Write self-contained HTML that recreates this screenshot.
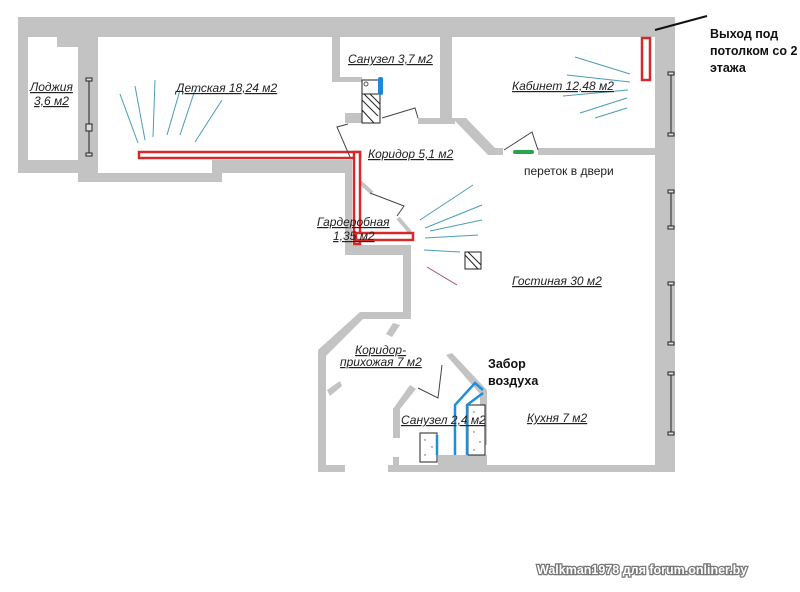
<!DOCTYPE html>
<html><head><meta charset="utf-8"><style>
html,body{margin:0;padding:0;background:#fff;}
svg{display:block}
.l{font-family:"Liberation Sans",sans-serif;font-style:italic;font-size:12px;text-decoration:underline;fill:#222}
.b{font-family:"Liberation Sans",sans-serif;font-weight:bold;font-size:12.5px;fill:#111}
</style></head><body>
<svg width="800" height="592" viewBox="0 0 800 592" xmlns="http://www.w3.org/2000/svg">
<g fill="#c3c3c3">
<rect x="18" y="17" width="657" height="20"/>
<rect x="18" y="17" width="10" height="156"/>
<rect x="18" y="160" width="80" height="13"/>
<rect x="57" y="32" width="21" height="15"/>
<rect x="78" y="32" width="20" height="150"/>
<rect x="78" y="173" width="144" height="9"/>
<rect x="212" y="160" width="140" height="13"/>
<rect x="332" y="37" width="8" height="45"/>
<rect x="332" y="77" width="30" height="5"/>
<rect x="345" y="113" width="17" height="10"/>
<rect x="440" y="37" width="12" height="86"/>
<rect x="418" y="118" width="37" height="6"/>
<polygon points="452,118 466,118 495,148 495,155 488,155 458,124"/>
<rect x="488" y="148" width="15" height="7"/>
<rect x="538" y="148" width="120" height="7"/>
<rect x="655" y="17" width="20" height="455"/>
<rect x="345" y="160" width="7" height="95"/>
<rect x="345" y="245" width="66" height="10"/>
<rect x="403" y="245" width="8" height="70"/>
<polygon points="360,312 411,312 411,319 363,319 326,356 318,356 318,350"/>
<rect x="318" y="350" width="8" height="122"/>
<rect x="318" y="465" width="27" height="7"/>
<polygon points="393,323 400,325 392,337 386,334"/>
<polygon points="327,390 340,381 342,386 330,396"/>
<rect x="388" y="465" width="287" height="7"/>
<rect x="393" y="457" width="6" height="8"/>
<polygon points="410,385 416,389 400,409 393,409"/>
<rect x="393" y="408" width="7" height="30"/>
<polygon points="446,355 452,353 487,390 480,394"/>
<rect x="480" y="390" width="7" height="55"/>
<rect x="438" y="455" width="49" height="10"/>
</g>
<line x1="360" y1="182" x2="372" y2="193" stroke="#c3c3c3" stroke-width="4"/>
<line x1="398" y1="218" x2="410" y2="232" stroke="#c3c3c3" stroke-width="4"/>
<g stroke="#222" stroke-width="1" fill="#ddd">
<line x1="89" y1="80" x2="89" y2="155"/><rect x="86" y="78" width="6" height="3"/><rect x="86" y="124" width="6" height="7"/><rect x="86" y="153" width="6" height="3"/>
<line x1="671" y1="74" x2="671" y2="134"/><rect x="668" y="72" width="6" height="3"/><rect x="668" y="133" width="6" height="3"/>
<line x1="671" y1="192" x2="671" y2="227"/><rect x="668" y="190" width="6" height="3"/><rect x="668" y="226" width="6" height="3"/>
<line x1="671" y1="284" x2="671" y2="343"/><rect x="668" y="282" width="6" height="3"/><rect x="668" y="342" width="6" height="3"/>
<line x1="671" y1="374" x2="671" y2="433"/><rect x="668" y="372" width="6" height="3"/><rect x="668" y="432" width="6" height="3"/>
</g>
<g stroke="#4a9db5" stroke-width="1">
<line x1="120" y1="94" x2="138" y2="143"/><line x1="135" y1="86" x2="145" y2="140"/><line x1="155" y1="80" x2="153" y2="137"/>
<line x1="180" y1="90" x2="167" y2="135"/><line x1="195" y1="90" x2="180" y2="135"/><line x1="222" y1="100" x2="195" y2="142"/>
<line x1="575" y1="57" x2="630" y2="74"/><line x1="567" y1="75" x2="630" y2="82"/><line x1="563" y1="96" x2="628" y2="90"/>
<line x1="580" y1="113" x2="627" y2="98"/><line x1="595" y1="118" x2="627" y2="108"/>
<line x1="420" y1="220" x2="473" y2="185"/><line x1="425" y1="228" x2="482" y2="205"/><line x1="430" y1="231" x2="482" y2="220"/>
<line x1="425" y1="238" x2="478" y2="235"/><line x1="424" y1="250" x2="460" y2="252"/>
</g>
<line x1="427" y1="267" x2="457" y2="285" stroke="#a05060" stroke-width="1"/>
<g fill="#fff" stroke="#d62a2a" stroke-width="2.5">
<rect x="139" y="152" width="221" height="6"/>
<rect x="354" y="152" width="6" height="92"/>
<rect x="356" y="233" width="57" height="7"/>
<rect x="642" y="38" width="8" height="42"/>
</g>
<line x1="655" y1="30" x2="707" y2="16" stroke="#111" stroke-width="2"/>
<rect x="362" y="80" width="18" height="43" fill="#fff" stroke="#222"/>
<rect x="362" y="94" width="18" height="29" fill="#fff" stroke="#222"/>
<g stroke="#222"><line x1="362" y1="100" x2="378" y2="116"/><line x1="364" y1="94" x2="380" y2="110"/><line x1="362" y1="110" x2="374" y2="123"/><line x1="370" y1="94" x2="380" y2="104"/></g>
<circle cx="366" cy="84" r="2" fill="none" stroke="#555"/>
<rect x="378" y="77" width="5" height="18" rx="2" fill="#1e88d8"/>
<g stroke="#444" fill="none" stroke-width="1">
<polyline points="382,118 415,108 418,118"/><polyline points="348,124 337,127 350,157"/>
<polyline points="504,150 532,132 538,150"/><polyline points="370,193 404,206 397,216"/>
<polyline points="442,365 438,398 418,388"/>
</g>
<line x1="515" y1="152" x2="532" y2="152" stroke="#2aa34a" stroke-width="4" stroke-linecap="round"/>
<rect x="465" y="252" width="16" height="17" fill="#fff" stroke="#222"/>
<line x1="465" y1="255" x2="478" y2="269" stroke="#222"/><line x1="468" y1="252" x2="481" y2="265" stroke="#222"/>
<rect x="420" y="433" width="17" height="29" fill="#fff" stroke="#222"/>
<rect x="468" y="405" width="17" height="50" fill="#fff" stroke="#222"/>
<g fill="#555"><circle cx="425" cy="440" r=".7"/><circle cx="432" cy="447" r=".7"/><circle cx="425" cy="455" r=".7"/><circle cx="474" cy="412" r=".7"/><circle cx="480" cy="422" r=".7"/><circle cx="474" cy="432" r=".7"/><circle cx="480" cy="442" r=".7"/><circle cx="474" cy="450" r=".7"/></g>
<g stroke="#1e90d8" stroke-width="2.5" fill="none">
<polyline points="455,455 455,405 475,383 483,390"/>
<polyline points="467,455 467,405 483,393"/>
<line x1="437" y1="435" x2="437" y2="455"/>
</g>
<text class="l" x="30" y="91">Лоджия</text><text class="l" x="34" y="105">3,6 м2</text>
<text class="l" x="176" y="92">Детская 18,24 м2</text>
<text class="l" x="348" y="63">Санузел 3,7 м2</text>
<text class="l" x="512" y="90">Кабинет 12,48 м2</text>
<text class="l" x="368" y="158">Коридор 5,1 м2</text>
<text class="l" x="317" y="226">Гардеробная</text><text class="l" x="333" y="240">1,35 м2</text>
<text class="l" x="512" y="285">Гостиная 30 м2</text>
<text class="l" x="355" y="354">Коридор-</text><text class="l" x="340" y="366">прихожая 7 м2</text>
<text class="l" x="401" y="424">Санузел 2,4 м2</text>
<text class="l" x="527" y="422">Кухня 7 м2</text>
<text style="font-family:'Liberation Sans',sans-serif;font-size:12px;fill:#222" x="524" y="175">переток в двери</text>
<text class="b" x="710" y="38">Выход под</text><text class="b" x="710" y="55">потолком со 2</text><text class="b" x="710" y="72">этажа</text>
<text class="b" x="488" y="368">Забор</text><text class="b" x="488" y="385">воздуха</text>
<text x="537" y="574" style="font-family:'Liberation Sans',sans-serif;font-weight:bold;font-size:12.5px;fill:#fff;stroke:#777;stroke-width:2.5px;paint-order:stroke">Walkman1978 для forum.onliner.by</text>
</svg>
</body></html>
